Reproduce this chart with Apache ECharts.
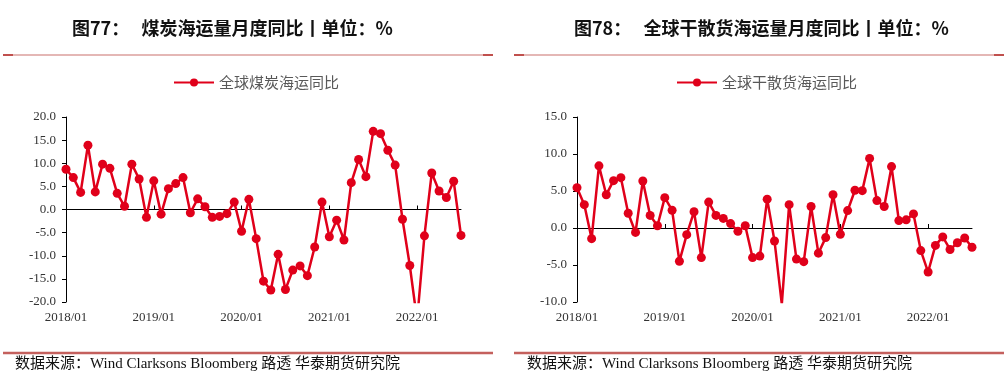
<!DOCTYPE html>
<html>
<head>
<meta charset="utf-8">
<script src="https://cdn.jsdelivr.net/npm/echarts@6/dist/echarts.min.js"></script>
<style>
html,body{margin:0;padding:0;background:#fff;}
#c{width:1007px;height:386px;}
</style>
</head>
<body>
<div id="c"></div>
<script>
// ---- data ----
const months = [];
for (let y = 2018; y <= 2022; y++) {
  for (let m = 1; m <= 12; m++) {
    if (y === 2022 && m > 7) break;
    months.push(y + '/' + (m < 10 ? '0' + m : m));
  }
}
const coalName = '全球煤炭海运同比';
const coalYoY = [8.7, 6.9, 3.7, 13.9, 3.8, 9.8, 8.9, 3.5, 0.7, 9.8, 6.6, -1.7,
  6.2, -1.0, 4.5, 5.6, 6.9, -0.7, 2.3, 0.6, -1.7, -1.5, -0.9, 1.6,
  -4.7, 2.2, -6.3, -15.5, -17.4, -9.7, -17.3, -13.1, -12.2, -14.3, -8.1, 1.6,
  -5.9, -2.3, -6.6, 5.8, 10.8, 7.1, 16.9, 16.4, 12.8, 9.6, -2.1, -12.1,
  -24.0, -5.7, 7.9, 4.0, 2.6, 6.1, -5.6];
const bulkName = '全球干散货海运同比';
const bulkYoY = [5.45, 3.15, -1.44, 8.4, 4.5, 6.4, 6.8, 2.0, -0.6, 6.35, 1.7, 0.3,
  4.1, 2.4, -4.5, -0.9, 2.2, -4.0, 3.5, 1.7, 1.3, 0.6, -0.45, 0.3,
  -4.0, -3.8, 3.9, -1.75, -10.3, 3.15, -4.2, -4.55, 2.9, -3.4, -1.3, 4.5,
  -0.85, 2.35, 5.1, 5.05, 9.4, 3.7, 2.9, 8.3, 1.0, 1.1, 1.9, -3.05,
  -5.95, -2.35, -1.2, -2.9, -2.0, -1.35, -2.6];
const leftTitle = '图77：   煤炭海运量月度同比丨单位：%';
const rightTitle = '图78：   全球干散货海运量月度同比丨单位：%';
const sourceText = '数据来源：Wind Clarksons Bloomberg 路透 华泰期货研究院';
const leftY = {min: -20, max: 20, interval: 5};
const rightY = {min: -10, max: 15, interval: 5};

// ---- chart ----
const RED = '#e0001a';
const AXIS_FONT = {fontFamily: '"Liberation Serif", "Times New Roman", serif', fontSize: 13, color: '#333'};
const chart = echarts.init(document.getElementById('c'), null, {renderer: 'canvas'});

function labelAxis(gi) {
  return {
    type: 'category', gridIndex: gi, data: months, boundaryGap: false,
    axisLine: {show: false, onZero: false}, axisTick: {show: false},
    axisLabel: Object.assign({interval: 11, margin: 9}, AXIS_FONT)
  };
}
function zeroAxis(gi) {
  return {
    type: 'category', gridIndex: gi, data: months, boundaryGap: false,
    axisLine: {show: true, onZero: true, lineStyle: {color: '#000', width: 1}},
    axisTick: {show: true, interval: 11, length: 4, lineStyle: {color: '#000'}},
    axisLabel: {show: false}
  };
}
function yAxis(gi, cfg) {
  return {
    type: 'value', gridIndex: gi, min: cfg.min, max: cfg.max, interval: cfg.interval,
    splitLine: {show: false},
    axisLine: {show: true, lineStyle: {color: '#000', width: 1}},
    axisTick: {show: true, length: 4, lineStyle: {color: '#000'}},
    axisLabel: Object.assign({margin: 10, formatter: v => v.toFixed(1)}, AXIS_FONT)
  };
}
function lineSeries(name, data, xi, yi) {
  return {
    name: name, type: 'line', data: data, xAxisIndex: xi, yAxisIndex: yi,
    clip: true, symbol: 'circle', symbolSize: 9, showSymbol: true, showAllSymbol: true,
    lineStyle: {color: RED, width: 2.5}, itemStyle: {color: RED},
    emphasis: {disabled: true}
  };
}
const legendText = {fontFamily: '"Noto Sans CJK SC", sans-serif', fontSize: 15, color: '#595959'};

const option = {
  animation: false,
  grid: [
    {left: 66, top: 117, width: 395, height: 185},
    {left: 577, top: 117, width: 395, height: 185}
  ],
  xAxis: [labelAxis(0), zeroAxis(0), labelAxis(1), zeroAxis(1)],
  yAxis: [yAxis(0, leftY), yAxis(1, rightY)],
  legend: [
    {data: [coalName], left: 168, top: 70, itemWidth: 40, itemHeight: 10, itemGap: 2, textStyle: legendText, selectedMode: false},
    {data: [bulkName], left: 671, top: 70, itemWidth: 40, itemHeight: 10, itemGap: 2, textStyle: legendText, selectedMode: false}
  ],
  series: [
    lineSeries(coalName, coalYoY, 0, 0),
    lineSeries(bulkName, bulkYoY, 2, 1)
  ],
  graphic: [
    {type: 'text', left: 72, top: 19, style: {text: leftTitle, font: 'bold 18px "Noto Sans CJK SC", sans-serif', fill: '#111'}},
    {type: 'text', left: 574, top: 19, style: {text: rightTitle, font: 'bold 18px "Noto Sans CJK SC", sans-serif', fill: '#111'}},
    {type: 'line', shape: {x1: 3, y1: 55, x2: 493, y2: 55}, style: {stroke: '#c9706d', lineWidth: 1.2}},
    {type: 'line', shape: {x1: 3, y1: 55, x2: 13, y2: 55}, style: {stroke: '#c0504d', lineWidth: 2}},
    {type: 'line', shape: {x1: 483, y1: 55, x2: 493, y2: 55}, style: {stroke: '#c0504d', lineWidth: 2}},
    {type: 'line', shape: {x1: 514, y1: 55, x2: 1004, y2: 55}, style: {stroke: '#c9706d', lineWidth: 1.2}},
    {type: 'line', shape: {x1: 514, y1: 55, x2: 524, y2: 55}, style: {stroke: '#c0504d', lineWidth: 2}},
    {type: 'line', shape: {x1: 994, y1: 55, x2: 1004, y2: 55}, style: {stroke: '#c0504d', lineWidth: 2}},
    {type: 'line', shape: {x1: 3, y1: 353, x2: 493, y2: 353}, style: {stroke: '#c4605d', lineWidth: 2.5}},
    {type: 'line', shape: {x1: 514, y1: 353, x2: 1004, y2: 353}, style: {stroke: '#c4605d', lineWidth: 2.5}},
    {type: 'text', left: 15, top: 357, style: {text: sourceText, font: '15px "Liberation Serif", "Noto Sans CJK SC", serif', fill: '#111'}},
    {type: 'text', left: 527, top: 357, style: {text: sourceText, font: '15px "Liberation Serif", "Noto Sans CJK SC", serif', fill: '#111'}}
  ]
};
chart.setOption(option);
</script>
</body>
</html>
